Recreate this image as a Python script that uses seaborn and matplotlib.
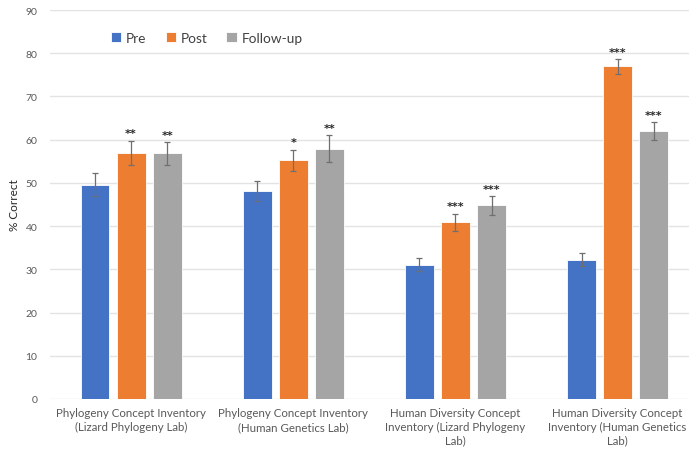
import matplotlib
matplotlib.use("Agg")
import matplotlib.pyplot as plt
import seaborn as sns
import pandas as pd

# Concept inventory scores (% correct) with standard errors
tests = [
    "Phylogeny Concept Inventory\n(Lizard Phylogeny Lab)",
    "Phylogeny Concept Inventory\n(Human Genetics Lab)",
    "Human Diversity Concept\nInventory (Lizard Phylogeny\nLab)",
    "Human Diversity Concept\nInventory (Human Genetics\nLab)",
]
phases = ["Pre", "Post", "Follow-up"]
pre = [49.6, 48.2, 31.1, 32.2]
post = [57.0, 55.2, 40.9, 77.0]
follow_up = [56.8, 57.9, 44.8, 62.0]
pre_err = [2.7, 2.3, 1.5, 1.5]
post_err = [2.8, 2.5, 2.0, 1.7]
follow_err = [2.6, 3.1, 2.2, 2.1]
post_sig = ["**", "*", "***", "***"]
follow_sig = ["**", "**", "***", "***"]

colors = ["#4472C4", "#ED7D31", "#A5A5A5"]

rows = []
for vals, ph in zip([pre, post, follow_up], phases):
    for t, v in zip(tests, vals):
        rows.append({"test": t, "phase": ph, "score": v})
df = pd.DataFrame(rows)

sns.set_theme(style="white")
plt.rcParams["font.family"] = ["Lato", "DejaVu Sans"]

fig = plt.figure(figsize=(6.89, 4.52), dpi=100)
ax = fig.add_axes([50 / 689, 52 / 452, 639 / 689, 389 / 452])

sns.barplot(data=df, x="test", y="score", hue="phase", palette=colors,
            hue_order=phases, order=tests, width=0.667, gap=0.2,
            saturation=1, edgecolor="white", linewidth=0.6,
            errorbar=None, ax=ax)

errs = [pre_err, post_err, follow_err]
sigs = [None, post_sig, follow_sig]
bar_groups = list(ax.containers)
for k, cont in enumerate(bar_groups):
    for i, bar in enumerate(cont):
        xc = bar.get_x() + bar.get_width() / 2
        h = bar.get_height()
        e = errs[k][i]
        ax.errorbar(xc, h, yerr=e, fmt="none", ecolor="#6f6f6f",
                    elinewidth=0.9, capsize=2.2, capthick=0.9, zorder=3)
        if sigs[k] is not None:
            ax.text(xc, h + e + 0.5, sigs[k][i], ha="center", va="bottom",
                    fontsize=8, fontweight="bold", color="#262626",
                    family="DejaVu Sans")

ax.set_ylim(0, 90)
ax.set_yticks(range(0, 91, 10))
ax.set_xlim(-0.5, 3.44)
ax.grid(axis="y", color="#e3e3e3", linewidth=1.0)
ax.set_axisbelow(True)
for s in ["top", "right", "left", "bottom"]:
    ax.spines[s].set_visible(False)
ax.tick_params(axis="y", labelsize=7.5, labelcolor="#595959", length=0, pad=9)
ax.tick_params(axis="x", labelsize=8.3, labelcolor="#595959", length=0, pad=6)
for lbl in ax.get_xticklabels():
    lbl.set_linespacing(1.3)
ax.set_xlabel("")
ax.set_ylabel("% Correct", fontsize=8.5, color="#262626", labelpad=4)

handles, labels = ax.get_legend_handles_labels()
ax.legend(handles, labels, ncol=3, frameon=False, loc="center left",
          bbox_to_anchor=(99 / 689, 413 / 452), bbox_transform=fig.transFigure,
          fontsize=9.8, handlelength=0.75, handleheight=0.75,
          handletextpad=0.35, columnspacing=1.4, labelcolor="#404040")

fig.savefig("out.png", dpi=100)
